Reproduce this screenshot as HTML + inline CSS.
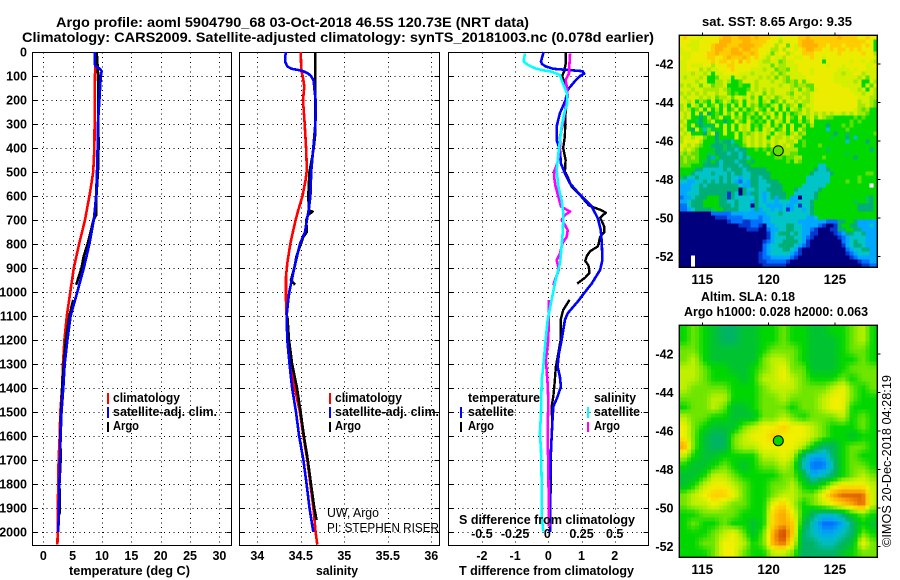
<!DOCTYPE html>
<html lang="en">
<head>
<meta charset="utf-8">
<title>Argo profile 5904790_68</title>
<style>
html,body{margin:0;padding:0;background:#fff;width:900px;height:580px;overflow:hidden}
svg{display:block}
text{font-family:"Liberation Sans",sans-serif;font-weight:bold;fill:#000}
.reg{font-weight:normal}
</style>
</head>
<body>
<svg id="root" xmlns="http://www.w3.org/2000/svg" width="900" height="580" viewBox="0 0 900 580">
<rect x="0" y="0" width="900" height="580" fill="#fff"/>
<g id="layer-maps"></g>
<g id="layer-plots"></g>
<text x="56" y="27" font-size="14" textLength="473" lengthAdjust="spacingAndGlyphs">Argo profile: aoml 5904790_68 03-Oct-2018 46.5S 120.73E (NRT data)</text>
<text x="22" y="42" font-size="14" textLength="632" lengthAdjust="spacingAndGlyphs">Climatology: CARS2009. Satellite-adjusted climatology: synTS_20181003.nc (0.078d earlier)</text>
<text x="69" y="575" font-size="13" textLength="121" lengthAdjust="spacingAndGlyphs">temperature (deg C)</text>
<text x="316" y="575" font-size="13" textLength="42" lengthAdjust="spacingAndGlyphs">salinity</text>
<text x="459" y="575" font-size="13" textLength="175" lengthAdjust="spacingAndGlyphs">T difference from climatology</text>
<text x="459" y="524" font-size="13" textLength="176" lengthAdjust="spacingAndGlyphs">S difference from climatology</text>
<text x="113" y="402" font-size="13" textLength="67" lengthAdjust="spacingAndGlyphs">climatology</text>
<text x="113" y="416" font-size="13" textLength="104" lengthAdjust="spacingAndGlyphs">satellite-adj. clim.</text>
<text x="113" y="430" font-size="13" textLength="26" lengthAdjust="spacingAndGlyphs">Argo</text>
<text x="335" y="402" font-size="13" textLength="67" lengthAdjust="spacingAndGlyphs">climatology</text>
<text x="335" y="416" font-size="13" textLength="104" lengthAdjust="spacingAndGlyphs">satellite-adj. clim.</text>
<text x="335" y="430" font-size="13" textLength="26" lengthAdjust="spacingAndGlyphs">Argo</text>
<text class="reg" x="327" y="517" font-size="13" textLength="52" lengthAdjust="spacingAndGlyphs">UW, Argo</text>
<text class="reg" x="327" y="532" font-size="13" textLength="112" lengthAdjust="spacingAndGlyphs">PI: STEPHEN RISER</text>
<text x="468" y="402" font-size="13" textLength="72" lengthAdjust="spacingAndGlyphs">temperature</text>
<text x="468" y="416" font-size="13" textLength="46" lengthAdjust="spacingAndGlyphs">satellite</text>
<text x="468" y="430" font-size="13" textLength="26" lengthAdjust="spacingAndGlyphs">Argo</text>
<text x="594" y="402" font-size="13" textLength="42" lengthAdjust="spacingAndGlyphs">salinity</text>
<text x="594" y="416" font-size="13" textLength="46" lengthAdjust="spacingAndGlyphs">satellite</text>
<text x="594" y="430" font-size="13" textLength="26" lengthAdjust="spacingAndGlyphs">Argo</text>
<text x="702" y="26" font-size="13" textLength="150" lengthAdjust="spacingAndGlyphs">sat. SST: 8.65 Argo: 9.35</text>
<text x="701" y="301" font-size="13" textLength="94" lengthAdjust="spacingAndGlyphs">Altim. SLA: 0.18</text>
<text x="684" y="316" font-size="13" textLength="184" lengthAdjust="spacingAndGlyphs">Argo h1000: 0.028 h2000: 0.063</text>
<text class="reg" transform="translate(891,547) rotate(-90)" x="0" y="0" font-size="13" textLength="172" lengthAdjust="spacingAndGlyphs">©IMOS 20-Dec-2018 04:28:19</text>
</svg>
<script>
// Axis tick values
const depthTicks = [0,100,200,300,400,500,600,700,800,900,1000,1100,1200,1300,1400,1500,1600,1700,1800,1900,2000];
const tempTicks = [0,5,10,15,20,25,30];
const salTicks = [34,34.5,35,35.5,36];
const salTickLabels = ['34','34.5','35','35.5','36'];
const tDiffTicks = [-2,-1,0,1,2];
const sDiffTicks = [-0.5,-0.25,0,0.25,0.5];
const sDiffTickLabels = ['-0.5','-0.25','0','0.25','0.5'];
const lonTicks = [115,120,125];
const latTicks = [-42,-44,-46,-48,-50,-52];
const argoLon = 120.73;
const argoLat = -46.5;

// Temperature panel (deg C)
const climTDepth = [0,100,400,500,550,600,700,800,900,1000,1100,1200,1300,1400,1500,1600,1700,1800,1900,2000,2053];
const climTVal = [8.9,8.8,8.7,8.5,8.2,7.85,7.1,6.1,5.2,4.6,4.0,3.6,3.35,3.2,2.9,2.8,2.6,2.55,2.45,2.45,2.4];
const satTDepth = [0,50,60,70,80,100,200,300,400,500,600,650,700,800,900,1000,1100,1200,1300,1400,1500,1600,1700,1800,1900,2000];
const satTVal = [8.75,8.75,8.95,9.65,9.95,9.8,9.55,9.3,9.25,9.15,9.0,8.8,8.6,7.85,6.9,5.8,4.65,4.1,3.65,3.4,3.1,2.95,2.85,2.75,2.65,2.55];
const argoTDepth = [0,100,400,500,600,680,700,800,850,900,970,1000,1033,1100,1200,1300,1400,1500,1600,1700,1800,1900,1930];
const argoTVal = [9.1,9.35,9.4,9.3,9.05,9.0,8.55,7.55,6.9,6.5,5.6,null,5.1,4.45,3.85,3.5,3.2,3.05,2.9,2.95,2.75,2.8,2.75];

// Salinity panel
const climSDepth = [0,70,117,144,200,300,394,490,533,600,660,700,797,880,936,1033,1100,1200,1300,1400,1500,1600,1700,1800,1900,2000,2053];
const climSVal = [34.5,34.505,34.53,34.54,34.525,34.545,34.56,34.57,34.555,34.52,34.47,34.44,34.38,34.345,34.33,34.33,34.337,34.345,34.39,34.43,34.49,34.53,34.575,34.61,34.645,34.67,34.69];
const satSDepth = [0,20,40,60,70,75,80,90,100,120,150,200,250,300,350,400,500,600,650,700,750,800,900,1000,1033,1100,1200,1300,1400,1500,1600,1700,1800,1900,2000];
const satSVal = [34.33,34.32,34.32,34.345,34.395,34.47,34.53,34.585,34.617,34.648,34.655,34.67,34.674,34.667,34.655,34.644,34.62,34.61,34.594,34.57,34.548,34.49,34.425,34.368,34.356,34.337,34.345,34.37,34.40,34.445,34.48,34.53,34.567,34.60,34.644];
const argoSDepth = [0,300,350,400,450,500,600,660,665,680,700,740,750,770,800,850,900,950,970,1000,1100,1200,1300,1400,1500,1600,1700,1800,1900,1950];
const argoSVal = [34.667,34.667,34.663,34.648,34.625,34.6,34.586,34.594,34.636,34.58,34.563,34.567,34.57,34.53,34.5,34.452,34.425,34.387,34.433,null,34.345,34.364,34.40,34.456,34.498,34.536,34.58,34.617,34.655,34.68];

// Difference panel: temperature differences (deg C)
const satDTDepth = [0,20,40,50,60,70,75,80,90,100,120,158,200,255,311,367,408,464,505,547,596,644,693,742,797,867,908,964,1026,1033,1089,1117,1200,1256,1311,1353,1394,1436,1478,1547,1658,1797,2000];
const satDTVal = [-0.14,-0.18,-0.22,-0.19,-0.08,0.15,0.6,1.03,1.08,0.96,0.81,0.58,0.52,0.35,0.25,0.25,0.35,0.38,0.5,0.65,0.96,1.31,1.49,1.58,1.61,1.63,1.56,1.31,0.96,0.93,0.58,0.5,0.4,0.32,0.28,0.35,0.38,0.28,0.15,0.12,0.08,0.06,0.06];
const argoDTDepth = [0,50,80,100,125,150,200,250,300,350,400,450,500,520,560,600,640,660,670,690,710,730,750,770,790,810,830,850,870,890,920,940,965,1000,1033,1075,1117,1200,1256,1311,1394,1436,1478,1547,1658,1797,1930];
const argoDTVal = [0.52,0.52,0.48,0.42,0.48,0.56,0.57,0.52,0.51,0.5,0.45,0.52,0.5,0.58,0.7,0.98,1.23,1.61,1.73,1.56,1.63,1.69,1.69,1.56,1.53,1.49,1.26,1.16,1.11,1.21,1.24,1.11,0.87,null,0.64,0.45,0.37,0.37,0.3,0.23,0.18,0.15,0.1,0.12,0.08,0.08,0.04];

// Difference panel: salinity differences
const satDSDepth = [6,40,54,68,75,82,96,117,144,172,214,256,311,367,422,492,561,617,672,742,811,881,950,1033,1117,1200,1311,1367,1506,1589,1658,1797,1936,1998];
const satDSVal = [-0.176,-0.186,-0.151,-0.10,-0.05,0.025,0.088,0.1,0.12,0.14,0.144,0.12,0.1,0.088,0.076,0.063,0.076,0.1,0.113,0.11,0.1,0.088,0.055,0.025,-0.005,-0.02,-0.038,-0.05,-0.055,-0.063,-0.055,-0.05,-0.05,-0.038];
const argoDSDepth = [6,47,89,117,144,186,228,269,311,353,394,436,471,499,526,561,603,644,665,679,700,721,742,769,797,839,867,908,950,971,1000,1033,1117,1200,1283,1381,1450,1589,1728,1867,1978];
const argoDSVal = [0.164,0.16,0.156,0.13,0.139,0.146,0.13,0.12,0.106,0.088,0.088,0.08,0.063,0.043,0.045,0.055,0.076,0.096,0.164,0.126,0.1,0.126,0.146,0.139,0.106,0.088,0.063,0.08,0.05,0.038,null,0.005,0.003,0,-0.018,-0.005,0,-0.005,0,0.003,0.005];

// SST map: colour level per cell, read row by row (w = missing)
const sstRows = [
"bcbbbabbbbcddccdddcdcccbbabbbbccdcccccccdccccbbcbb",
"bbbaabbbbbdddcccddccccbbb9bbbbcdddcccccccccccccbb7",
"bbaaabbbcdddcccddddccbbb9bb8bacddddccbcccbccccbcb7",
"abbaabbbcddccddcddccbbb99b9bbabcddccbbcbccbcbcbbb7",
"aaabbbbccdcccdddccdcbba8abb9abbcccbbbbbbcbbbbbcbb9",
"baabbbbccbbcdcccdcbcba9baa9bbaabbcbbabbbbbbbbbbbba",
"aabbbbbbcbccbcbdbcbba99aa89aabbbbbbb7bbbbbbabbaba9",
"aabaaabb9bbbccbbbbbbaaa8a99aaabbbbbbbabbbabbbbbaab",
"aabbb9a9aabbbcbbbbaaa9aa8998aabbbabbbbbbaaababbaaa",
"aaa9aa9a7aabbbbaaa9aaaa9a89aaaabbabbbbbaa9aabb9aaa",
"a9aaa9a778aaa7aa9aaa9a9a8a98aaaabbbbbbbaaaaaa9a8aa",
"aaaa9aa7799a9778aaa9aaa9aa9898a8abbbbbbaaaaa9a77a9",
"9a9aa8aa899a777877a9aaaaa9aa989988bbbbbbbaaaaa7a8a",
"aaa9aa9999a9877778a9a9a9aaaa9a8a98abbbbbbbbaa9a7a9",
"9a9a9a9aa9aa87877a9aa8a9aaa98aa99abbbbbbbbbbaa9aa9",
"a9aaa9a9a899a8aa9a8a7a9a89aa9a9a9abbbbbbbbbbbaaa99",
"aa9a7987a78a978a7a9a79a78a8aa9a99abbbbbbbbbbb9aa98",
"9a7a97a78a797a7a7a897879a7a89a79aabbbbbbbbbbb99a98",
"9a978a7a797a78a7978a87a7a7a7a98a9abbbbbbbbbba98977",
"a9a7a6a5787a8a7a7897a89a7a79789a9a9a9a9aa9a9a99877",
"a9a7757978a77a8979787a7a8a7a87a79a8a98877777878777",
"9a776578a77577a87a8787a7a97a77978a7777777778787777",
"a97a75666a7a7a7a9a7879a797a7a779797775777878777777",
"9a75a748677a7a7a9a797a9a78a7a7a87777747777877777778",
"a9a77758a57a77a7989a9a97a9979a89777777757767777778",
"9aa9aa87757777a79a9a9a7a99a9a997777777677757477777",
"9baab977756554779a9a9a9a9aa99a78777777777747777577",
"aa9a9877555656578a9a9a8a9a9a9778777877777777777777",
"a9a987776556554557787878a9999977777776777777777757",
"98988776755545545777779789998877777777777767777777",
"89898775375555545477777788788997777787777777577777",
"89888765754555455757777777787987777777777777777777",
"88877755554555545577777777777777777447777777777777",
"77775544444545554555557777777777775445777777777777",
"77754444544454554455555777777777754444577777777887",
"65445444445454434455455777777777444444777777787777",
"44334454545454324355445557777777444444777787787777",
"333445455555555433554445557777744444477777777777w7",
"33344555555555505445445555777544444577777777777777",
"33444555555515405355434555577444445777777777777777",
"23345557775515444445434535573304445777777777777657",
"33455577775544544435434434443344457777777777677657",
"22455577775554544405443333433414457777777777755557",
"22345555677555544435344343413443457777777777755557",
"00000000222223333333334445444444457777777777777777",
"00000000011122223333233444444444334777777777777777",
"00000000000012221122233444444433333332225577533333",
"00000000000000011122103344455443333210015775533343",
"00000000000000000111002334455443321000115577553333",
"00000000000000000000001345554543311000012355445333",
"00000000000000000000001344455443210000001234444333",
"00000000000000000000012344555543100000000234544333",
"00000000000000000000023445555432100000000134554333",
"00000000000000000000023444554310000000000023445533",
"00000000000000000000123444443210000000000012344433",
"000w0000000000000000122333332100000000000001233333",
"000w0000000000000000112222210000000000000000012233",
"000w0000000000000000011111100000000000000000001122"
];
const sstPalette = ['#00007f','#0038d0','#0070ff','#00a8ff','#00c4c8','#00ae78','#00c84c','#00d800','#5ce000','#a8e800','#d4f000','#ecec00','#ffcc00','#ffb000'];

// SLA map: coarse sea-level anomaly levels, read every 10 px
const slaRows = [
"56543344556554455675",
"56543344556554445675",
"66544444566654445665",
"67544444677654445565",
"77655445678664445666",
"77655545778765556566",
"76666555677766678656",
"66677555667666788655",
"56676445666566788555",
"76655444667656667565",
"86544467889887655565",
"86433678898887655455",
"a6433677888875335665",
"75445555778731135655",
"54456545667620025665",
"44577655556641235676",
"45788765566754578887",
"678998655677668abbb7",
"67787665589756789ab7",
"55666655 59a8 53223565".replace(/ /g,""),
"56556554 59a9 42001354".replace(/ /g,""),
"55567864 6ac9 32112365".replace(/ /g,""),
"55668875 6ab8 33223486".replace(/ /g,""),
"55568865 5776 33334566".replace(/ /g,"")
];
const slaPalette = [[0,110,255],[0,170,240],[0,190,190],[0,180,100],[0,195,50],[0,215,0],[110,230,0],[190,240,0],[240,240,0],[255,205,0],[250,165,0],[225,100,0],[200,70,0]];

const NS = 'http://www.w3.org/2000/svg';
const plots = document.getElementById('layer-plots');
const maps = document.getElementById('layer-maps');
function mk(parent, tag, attrs, txt){
  const el = document.createElementNS(NS, tag);
  for (const k in attrs) el.setAttribute(k, attrs[k]);
  if (txt !== undefined) el.textContent = txt;
  parent.appendChild(el);
  return el;
}
// Shared vertical axis
const plotTop = 52.5, plotBottom = 545.5;
function yDepth(d){ return 52 + d * 0.24; }
// Horizontal axes
function xTemp(v){ return 43.3 + v * 5.87; }
function xSal(v){ return 257.3 + (v - 34) * 87; }
function xTDiff(v){ return 548.3 + v * 33.2; }
function xSDiff(v){ return 548.3 + v * 132.8; }
// Map axes
function xLon(v){ return 702.3 + (v - 115) * 13.26; }
function yLat(v, top){ return top + 28.7 + (-42 - v) * 19.27; }

function linePath(depths, vals, xf){
  let d = '', pen = false;
  for (let i = 0; i < depths.length; i++){
    if (vals[i] === null) { pen = false; continue; }
    d += (pen ? 'L' : 'M') + xf(vals[i]).toFixed(1) + ' ' + yDepth(depths[i]).toFixed(1);
    pen = true;
  }
  return d;
}
function drawSeries(name, depths, vals, xf, colour, width){
  const p = mk(plots, 'path', {d: linePath(depths, vals, xf), fill:'none', stroke:colour, 'stroke-width':width, 'shape-rendering':'crispEdges', 'stroke-linejoin':'round'});
  
  
}
function drawPanel(left, right, name, xTicks, xf, xLabels){
  const g = mk(plots, 'g', {});
  
  
  depthTicks.forEach(function(d){
    const y = Math.round(yDepth(d)) + 0.5;
    const gl = mk(g, 'line', {x1:left, x2:right, y1:y, y2:y, stroke:'#000', 'stroke-width':1, 'stroke-dasharray':'1 3.7', 'shape-rendering':'crispEdges'});
    
    
    const t1 = mk(g, 'line', {x1:left, x2:left + 5, y1:y, y2:y, stroke:'#000', 'stroke-width':1, 'shape-rendering':'crispEdges'});
    
    
    const t2 = mk(g, 'line', {x1:right - 5, x2:right, y1:y, y2:y, stroke:'#000', 'stroke-width':1, 'shape-rendering':'crispEdges'});
    
    
  });
  xTicks.forEach(function(v, i){
    const x = Math.round(xf(v)) + 0.5;
    const gl = mk(g, 'line', {x1:x, x2:x, y1:plotTop, y2:plotBottom, stroke:'#000', 'stroke-width':1, 'stroke-dasharray':'1 3.7', 'shape-rendering':'crispEdges'});
    
    
    const t = mk(g, 'text', {x:xf(v), y:560, 'font-size':12.5, 'text-anchor':'middle'}, xLabels[i]);
    
    
  });
  const box = mk(g, 'rect', {x:left, y:plotTop, width:right-left, height:plotBottom-plotTop, fill:'none', stroke:'#000', 'stroke-width':1, 'shape-rendering':'crispEdges'});
  
  
}
drawPanel(32.5, 231.5, 'temperature-panel', tempTicks, xTemp, tempTicks.map(String));
drawPanel(239.5, 439.5, 'salinity-panel', salTicks, xSal, salTickLabels);
drawPanel(448.5, 648.5, 'difference-panel', tDiffTicks, xTDiff, tDiffTicks.map(String));

depthTicks.forEach(function(d){
  const t = mk(plots, 'text', {x:27, y:yDepth(d) + 4.5, 'font-size':12.5, 'text-anchor':'end'}, String(d));
  
  
});
sDiffTicks.forEach(function(v, i){
  const t = mk(plots, 'text', {x:xSDiff(v) + (i === 2 ? -1 : 0), y:538, 'font-size':12.5, 'text-anchor':'middle'}, sDiffTickLabels[i]);
  
  
});

drawSeries('temperature-climatology-line', climTDepth, climTVal, xTemp, '#ff0000', 2.6);
drawSeries('temperature-argo-line', argoTDepth, argoTVal, xTemp, '#000000', 2.6);
drawSeries('temperature-satellite-line', satTDepth, satTVal, xTemp, '#0000ff', 2.6);
drawSeries('salinity-climatology-line', climSDepth, climSVal, xSal, '#ff0000', 2.6);
drawSeries('salinity-argo-line', argoSDepth, argoSVal, xSal, '#000000', 2.6);
drawSeries('salinity-satellite-line', satSDepth, satSVal, xSal, '#0000ff', 2.6);
drawSeries('t-difference-argo-line', argoDTDepth, argoDTVal, xTDiff, '#000000', 2.4);
drawSeries('t-difference-satellite-line', satDTDepth, satDTVal, xTDiff, '#0000ff', 2.6);
drawSeries('s-difference-argo-line', argoDSDepth, argoDSVal, xSDiff, '#ff00ff', 2.6);
drawSeries('s-difference-satellite-line', satDSDepth, satDSVal, xSDiff, '#00ffff', 2.6);

function legendBar(name, x, y1, y2, colour){
  const b = mk(plots, 'rect', {x:x, y:y1, width:2, height:y2-y1, fill:colour, 'shape-rendering':'crispEdges'});
  
  
}
legendBar('legend-t-climatology-swatch', 107, 393, 404, '#ff0000');
legendBar('legend-t-satellite-swatch', 107, 407, 418, '#0000ff');
legendBar('legend-t-argo-swatch', 107, 422, 432, '#000000');
legendBar('legend-s-climatology-swatch', 329, 393, 404, '#ff0000');
legendBar('legend-s-satellite-swatch', 329, 407, 418, '#0000ff');
legendBar('legend-s-argo-swatch', 329, 422, 432, '#000000');
legendBar('legend-diff-t-satellite-swatch', 460, 407, 418, '#0000ff');
legendBar('legend-diff-t-argo-swatch', 460, 422, 432, '#000000');
legendBar('legend-diff-s-satellite-swatch', 587, 407, 418, '#00ffff');
legendBar('legend-diff-s-argo-swatch', 587, 422, 432, '#ff00ff');

// Maps
const mapLeft = 679.3, mapW = 198, mapH = 232, cols = 50, rows = 58;
const cellW = mapW / cols, cellH = mapH / rows;
function drawCell(parent, name, top, c, r, fill){
  const cell = mk(parent, 'rect', {x:(mapLeft + c*cellW).toFixed(2), y:(top + r*cellH).toFixed(2), width:(cellW+0.1).toFixed(2), height:(cellH+0.1).toFixed(2), fill:fill, 'shape-rendering':'crispEdges'});
  
  
}
const sstG = mk(maps, 'g', {});


sstRows.forEach(function(row, r){
  for (let c = 0; c < cols; c++){
    const ch = row[Math.min(c, row.length - 1)];
    const fill = ch === 'w' ? '#ffffff' : sstPalette[parseInt(ch, 16)];
    drawCell(sstG, 'sst-cell', 35.3, c, r, fill);
  }
});
function slaLevel(gx, gy){
  const ny = slaRows.length, nx = slaRows[0].length;
  const x = Math.max(0, Math.min(nx - 1, gx)), y = Math.max(0, Math.min(ny - 1, gy));
  const x0 = Math.floor(x), y0 = Math.floor(y), x1 = Math.min(nx - 1, x0 + 1), y1 = Math.min(ny - 1, y0 + 1);
  const fx = x - x0, fy = y - y0;
  function v(i, j){ const ch = slaRows[j][Math.min(i, slaRows[j].length - 1)]; return parseInt(ch, 16); }
  return (v(x0,y0)*(1-fx) + v(x1,y0)*fx)*(1-fy) + (v(x0,y1)*(1-fx) + v(x1,y1)*fx)*fy;
}
function slaColour(level){
  const i = Math.min(slaPalette.length - 2, Math.floor(level)), f = level - i;
  const a = slaPalette[i], b = slaPalette[i + 1];
  return 'rgb(' + [0,1,2].map(function(k){ return Math.round(a[k] + (b[k]-a[k])*f); }).join(',') + ')';
}
const slaG = mk(maps, 'g', {});


for (let r = 0; r < rows; r++){
  for (let c = 0; c < cols; c++){
    const gx = (c + 0.5) / cols * slaRows[0].length - 0.5;
    const gy = (r + 0.5) / rows * slaRows.length - 0.5;
    drawCell(slaG, 'sla-cell', 325.3, c, r, slaColour(slaLevel(gx, gy)));
  }
}
function drawMapFrame(name, top, markerFill){
  const g = mk(maps, 'g', {});
  
  
  const box = mk(g, 'rect', {x:mapLeft, y:top, width:mapW, height:mapH, fill:'none', stroke:'#000', 'stroke-width':1.4});
  
  
  lonTicks.forEach(function(v){
    const tick = mk(g, 'line', {x1:xLon(v), x2:xLon(v), y1:top-3, y2:top, stroke:'#000', 'stroke-width':1, 'shape-rendering':'crispEdges'});
    
    
    const t = mk(g, 'text', {x:xLon(v), y:top + mapH + 16.7, 'font-size':13.5, 'text-anchor':'middle'}, String(v));
    
    
  });
  latTicks.forEach(function(v){
    const y = yLat(v, top);
    const tick = mk(g, 'line', {x1:mapLeft+mapW, x2:mapLeft+mapW+3, y1:y, y2:y, stroke:'#000', 'stroke-width':1, 'shape-rendering':'crispEdges'});
    
    
    const t = mk(g, 'text', {x:673.5, y:y + 4.5, 'font-size':12.5, 'text-anchor':'end'}, String(v));
    
    
  });
  const m = mk(g, 'circle', {cx:xLon(argoLon), cy:yLat(argoLat, top), r:5, fill:markerFill, stroke:'#000', 'stroke-width':1});
  
  
}
drawMapFrame('sst-map', 35.3, '#5ce000');
drawMapFrame('sla-map', 325.3, '#00d800');
</script>
</body>
</html>
